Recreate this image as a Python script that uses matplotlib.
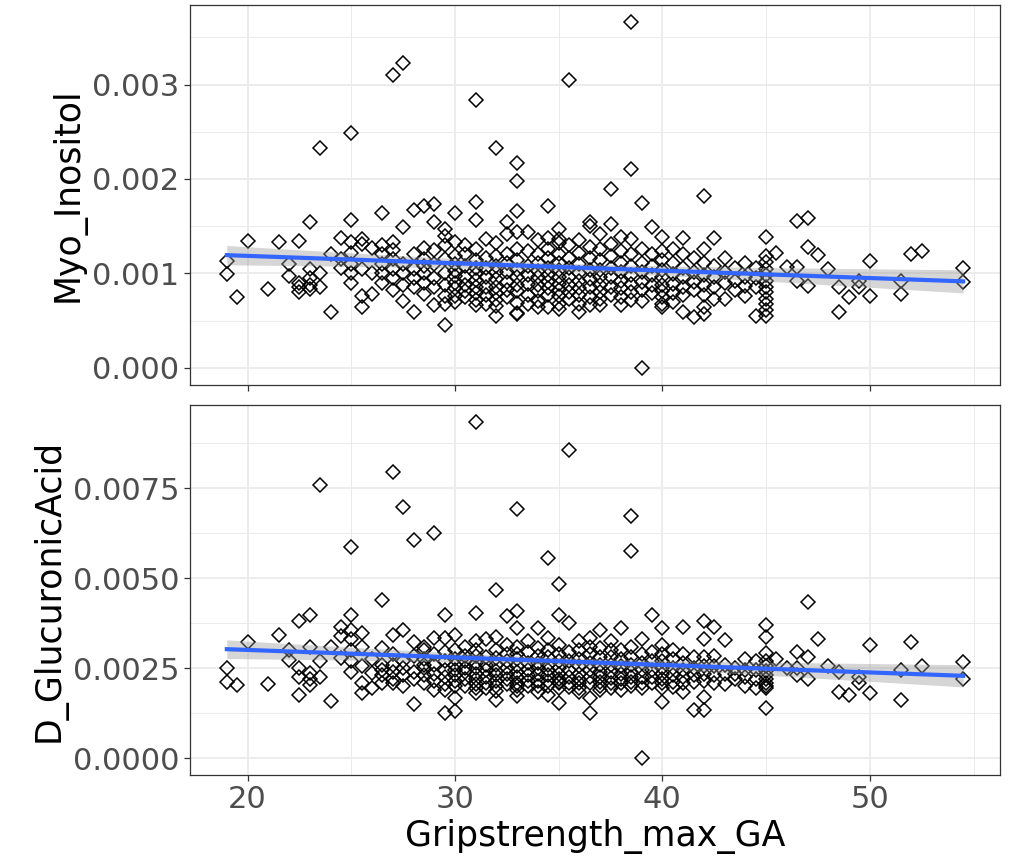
import numpy as np
import matplotlib
matplotlib.use("Agg")
import matplotlib.pyplot as plt
from matplotlib.ticker import FixedLocator, FormatStrFormatter

# ---------------- data ----------------
# grip strength levels; for each level the Myo_Inositol and D_GlucuronicAcid
# values (both in units of 1e-3)
grip_levels = [19.0, 19.5, 20.0, 21.0, 21.5, 22.0, 22.5, 23.0, 23.5, 24.0,
               24.5, 25.0, 25.5, 26.0, 26.5, 27.0, 27.5, 28.0, 28.5, 29.0,
               29.5, 30.0, 30.5, 31.0, 31.5, 32.0, 32.5, 33.0, 33.5, 34.0,
               34.5, 35.0, 35.5, 36.0, 36.5, 37.0, 37.5, 38.0, 38.5, 39.0,
               39.5, 40.0, 40.5, 41.0, 41.5, 42.0, 42.5, 43.0, 43.5, 44.0,
               44.5, 45.0, 45.5, 46.0, 46.5, 47.0, 47.5, 48.0, 48.5, 49.0,
               49.5, 50.0, 51.5, 52.0, 52.5, 54.5]

myo_milli = [
    [1.13, 0.99], [0.75], [1.34], [0.83], [1.33], [1.10, 0.97],
    [1.34, 0.85, 0.80, 0.90], [1.54, 1.05, 0.95, 0.88, 0.83],
    [2.33, 0.86, 1.00], [0.59, 1.20], [1.37, 1.06, 1.15],
    [2.49, 1.56, 1.33, 1.22, 1.10, 1.00, 0.90],
    [1.36, 1.31, 0.76, 0.64, 1.05], [1.27, 0.78, 1.00],
    [1.64, 1.30, 1.20, 1.10, 1.00, 0.90],
    [3.10, 1.33, 1.25, 1.15, 1.05, 0.95, 0.82],
    [3.23, 1.49, 0.71, 1.10, 1.00, 0.88],
    [1.67, 0.59, 1.20, 1.05, 0.95, 0.85],
    [1.71, 1.27, 1.15, 1.00, 0.90, 0.78, 1.08],
    [1.73, 1.54, 0.66, 1.25, 1.10, 0.95, 0.85],
    [1.47, 1.40, 1.30, 1.15, 0.45, 1.00, 0.88, 0.76, 0.68],
    [1.64, 1.33, 1.18, 1.10, 1.03, 0.97, 0.90, 0.84, 0.76, 0.70],
    [1.30, 1.20, 0.75, 1.08, 0.96, 0.88, 0.81],
    [2.84, 1.76, 1.57, 1.26, 1.14, 1.06, 0.99, 0.93, 0.86, 0.79, 0.72, 0.66],
    [1.36, 1.16, 1.06, 0.96, 0.86, 0.77, 0.68],
    [2.33, 1.32, 1.18, 1.08, 1.01, 0.94, 0.86, 0.79, 0.72, 0.55, 0.65],
    [1.54, 1.42, 1.21, 1.11, 1.01, 0.91, 0.82, 0.75],
    [2.17, 1.98, 1.66, 1.44, 1.26, 1.14, 1.04, 0.96, 0.88, 0.81, 0.57, 0.58, 0.69],
    [1.44, 1.24, 1.08, 0.98, 0.89, 0.77, 0.68],
    [1.35, 1.21, 1.11, 1.03, 0.96, 0.88, 0.81, 0.71, 0.64],
    [1.71, 1.37, 1.26, 1.16, 1.06, 0.98, 0.91, 0.84, 0.77, 0.64],
    [1.47, 1.32, 1.21, 1.11, 1.04, 0.96, 0.89, 0.82, 0.76, 0.68, 0.62, 1.36],
    [3.05, 1.30, 1.16, 1.06, 0.96, 0.88, 0.80, 0.73],
    [1.35, 1.22, 1.10, 1.00, 0.92, 0.84, 0.77, 0.59, 0.68],
    [1.54, 1.50, 1.28, 1.16, 1.04, 0.94, 0.85, 0.75, 0.66],
    [1.42, 1.26, 1.14, 1.04, 0.96, 0.88, 0.80, 0.66, 0.73],
    [1.89, 1.52, 1.31, 1.18, 1.06, 0.96, 0.86, 0.77],
    [1.39, 1.24, 1.11, 1.01, 0.92, 0.84, 0.75, 0.66],
    [3.66, 2.11, 1.36, 1.21, 1.08, 0.98, 0.89, 0.80, 0.72],
    [1.75, 0.00, 1.26, 1.11, 1.01, 0.91, 0.82, 0.71],
    [1.49, 1.21, 1.08, 0.98, 0.88, 0.79],
    [1.38, 1.24, 1.14, 1.04, 0.96, 0.88, 0.81, 0.75, 0.64, 0.68],
    [1.26, 1.11, 0.99, 0.89, 0.79, 0.70],
    [1.37, 1.21, 1.06, 0.96, 0.86, 0.77, 0.59],
    [1.16, 1.01, 0.91, 0.82, 0.54],
    [1.82, 1.26, 1.11, 0.98, 0.88, 0.77, 0.64, 0.57],
    [1.37, 1.08, 0.96, 0.85, 0.73],
    [1.16, 1.01, 0.90, 0.73],
    [1.06, 0.82, 0.92],
    [1.11, 0.96, 0.87, 0.76],
    [1.06, 0.95, 0.85, 0.545],
    [1.39, 1.18, 1.12, 1.05, 0.98, 0.92, 0.86, 0.80, 0.73, 0.67, 0.61, 0.55],
    [1.22], [1.065], [1.55, 1.07, 0.92], [1.59, 1.28, 0.865], [1.19],
    [1.045], [0.86, 0.59], [0.745], [0.92, 0.86], [1.13, 0.76],
    [0.92, 0.78], [1.20], [1.24], [1.055, 0.91],
]

gluc_milli = [
    [2.13, 2.50], [2.04], [3.24], [2.05], [3.42], [3.00, 2.73],
    [3.80, 2.27, 1.76, 2.50], [3.98, 3.10, 2.36, 2.20, 2.04],
    [7.59, 2.69, 2.27], [1.58, 3.10], [3.66, 2.78, 3.40],
    [5.86, 3.98, 3.56, 3.30, 3.00, 2.70, 2.40],
    [3.47, 3.10, 2.08, 1.80, 2.55], [2.36, 1.95, 2.75],
    [4.40, 3.05, 2.60, 2.45, 2.30, 2.08],
    [7.96, 3.42, 2.90, 2.60, 2.40, 2.20, 2.10],
    [6.99, 3.56, 2.00, 2.70, 2.50, 2.30],
    [6.06, 1.50, 3.24, 2.85, 2.40, 2.20],
    [3.10, 3.00, 2.75, 2.50, 2.30, 2.10, 2.60],
    [6.25, 3.35, 1.90, 2.90, 2.60, 2.35, 2.15],
    [3.98, 3.33, 2.95, 2.70, 1.25, 2.45, 2.25, 2.05, 1.90],
    [3.00, 3.42, 1.67, 2.75, 2.60, 2.45, 2.30, 2.15, 2.00, 1.30],
    [3.10, 2.85, 2.00, 2.70, 2.40, 2.20, 2.50],
    [9.35, 4.03, 3.25, 3.00, 2.85, 2.65, 2.50, 2.35, 2.20, 2.05, 1.95, 1.80],
    [3.30, 2.80, 2.60, 2.45, 2.25, 2.10, 1.95],
    [4.68, 3.38, 3.00, 2.78, 2.60, 2.42, 2.30, 2.15, 2.00, 1.62, 1.88],
    [3.94, 3.15, 2.90, 2.70, 2.50, 2.35, 2.20, 2.05],
    [6.93, 4.08, 3.61, 3.10, 2.90, 2.75, 2.55, 2.40, 2.25, 2.10, 1.72, 1.90, 2.00],
    [3.25, 2.95, 2.65, 2.45, 2.30, 2.15, 2.00],
    [3.61, 3.05, 2.85, 2.65, 2.50, 2.35, 2.15, 2.00, 1.85],
    [5.56, 3.35, 3.00, 2.80, 2.60, 2.45, 2.30, 2.15, 2.00, 1.76],
    [4.83, 3.98, 3.15, 2.90, 2.70, 2.52, 2.35, 2.20, 2.08, 1.95, 1.53, 2.12],
    [8.56, 3.75, 2.95, 2.70, 2.45, 2.25, 2.10, 1.98],
    [3.25, 3.00, 2.75, 2.55, 2.35, 2.20, 2.08, 1.85, 1.95],
    [3.35, 3.10, 2.90, 2.65, 2.45, 2.25, 2.08, 1.25, 1.67],
    [3.56, 3.05, 2.80, 2.60, 2.40, 2.25, 2.12, 1.90, 2.00],
    [3.25, 3.00, 2.80, 2.60, 2.40, 2.22, 2.08, 1.95],
    [3.61, 3.00, 2.75, 2.55, 2.35, 2.20, 2.08, 1.90],
    [6.73, 5.76, 3.10, 2.80, 2.60, 2.40, 2.25, 2.12, 2.00],
    [3.30, 0.00, 2.90, 2.65, 2.45, 2.25, 2.08, 1.95],
    [3.98, 2.95, 2.70, 2.45, 2.25, 2.08],
    [3.61, 3.15, 2.90, 2.70, 2.52, 2.35, 2.20, 2.08, 1.57, 1.95],
    [3.00, 2.75, 2.50, 2.30, 2.12, 1.98],
    [3.66, 2.90, 2.65, 2.45, 2.25, 2.08, 1.85],
    [2.80, 2.50, 2.30, 2.12, 1.34],
    [3.80, 3.30, 2.80, 2.55, 2.35, 2.15, 1.71, 1.34],
    [3.66, 2.85, 2.55, 2.30, 2.10],
    [3.29, 2.60, 2.35, 2.05],
    [2.50, 2.20, 2.35],
    [2.75, 2.45, 2.25, 2.02],
    [2.70, 2.45, 2.20, 1.95],
    [3.70, 3.36, 2.92, 2.70, 2.55, 2.42, 2.30, 2.20, 2.10, 2.02, 1.95, 1.39],
    [2.75], [2.50], [2.96, 2.50, 2.30], [4.35, 2.80, 2.20], [3.30],
    [2.55], [1.85, 2.40], [1.76], [2.10, 2.25], [3.15, 1.80],
    [2.44, 1.62], [3.22], [2.55], [2.67, 2.20],
]

x_ticks = [20, 30, 40, 50]
top_ticks = [0.000, 0.001, 0.002, 0.003]
bot_ticks = [0.0000, 0.0025, 0.0050, 0.0075]
x_label = "Gripstrength_max_GA"
top_label = "Myo_Inositol"
bot_label = "D_GlucuronicAcid"

# --------------- flatten ---------------
grip = np.concatenate([[g] * len(v) for g, v in zip(grip_levels, myo_milli)])
myo = np.concatenate(myo_milli) * 1e-3
gluc = np.concatenate(gluc_milli) * 1e-3

# --------------- style ---------------
plt.rcParams['font.family'] = ['DejaVu Sans']
GRID = '#EBEBEB'
BORDER = '#333333'
TICKC = '#4D4D4D'

fig = plt.figure(figsize=(10.10, 8.61), dpi=100)
ax1 = fig.add_axes([190/1010, 1-385/861, 810/1010, 380/861])
ax2 = fig.add_axes([190/1010, 1-775/861, 810/1010, 370/861])


def expand(lo, hi, f=0.05):
    d = (hi - lo) * f
    return lo - d, hi + d


xlo, xhi = expand(grip.min(), grip.max())


def draw(ax, y, ticks, fmt, label, show_x):
    ylo, yhi = expand(y.min(), y.max())
    ax.set_xlim(xlo, xhi)
    ax.set_ylim(ylo, yhi)
    ax.set_axisbelow(True)
    ax.xaxis.set_major_locator(FixedLocator(x_ticks))
    ax.yaxis.set_major_locator(FixedLocator(ticks))
    step_x = x_ticks[1] - x_ticks[0]
    step_y = ticks[1] - ticks[0]
    ax.xaxis.set_minor_locator(FixedLocator(
        [t + step_x / 2 for t in [x_ticks[0] - step_x] + x_ticks]))
    ax.yaxis.set_minor_locator(FixedLocator(
        [t + step_y / 2 for t in [ticks[0] - step_y] + ticks]))
    ax.grid(which='major', color=GRID, linewidth=1.3)
    ax.grid(which='minor', color=GRID, linewidth=0.7)
    ax.tick_params(which='minor', length=0)
    ax.tick_params(which='major', length=4.5, width=0.9, color=BORDER,
                   labelsize=22, labelcolor=TICKC, pad=3)
    ax.yaxis.set_major_formatter(FormatStrFormatter(fmt))
    if not show_x:
        ax.tick_params(axis='x', labelbottom=False)
    for s in ax.spines.values():
        s.set_color(BORDER)
        s.set_linewidth(0.9)

    ax.plot(grip, y, linestyle='none', marker='D', markersize=6.8,
            markerfacecolor='none', markeredgecolor='black',
            markeredgewidth=1.1, zorder=2)

    # linear fit + 95% CI
    n = len(grip)
    b, a = np.polyfit(grip, y, 1)
    xs = np.linspace(grip.min(), grip.max(), 80)
    fit = a + b * xs
    resid = y - (a + b * grip)
    s = np.sqrt(np.sum(resid ** 2) / (n - 2))
    sxx = np.sum((grip - grip.mean()) ** 2)
    se = s * np.sqrt(1.0 / n + (xs - grip.mean()) ** 2 / sxx)
    tcrit = 1.967
    ax.fill_between(xs, fit - tcrit * se, fit + tcrit * se,
                    color='#999999', alpha=0.4, linewidth=0, zorder=3)
    ax.plot(xs, fit, color='#3366FF', linewidth=3.0, zorder=4)

    ax.set_ylabel(label, fontsize=25, color='black', labelpad=5)


draw(ax1, myo, top_ticks, '%.3f', top_label, False)
draw(ax2, gluc, bot_ticks, '%.4f', bot_label, True)
ax2.set_xlabel(x_label, fontsize=25, color='black', labelpad=3)

fig.savefig('out.png', dpi=100)
